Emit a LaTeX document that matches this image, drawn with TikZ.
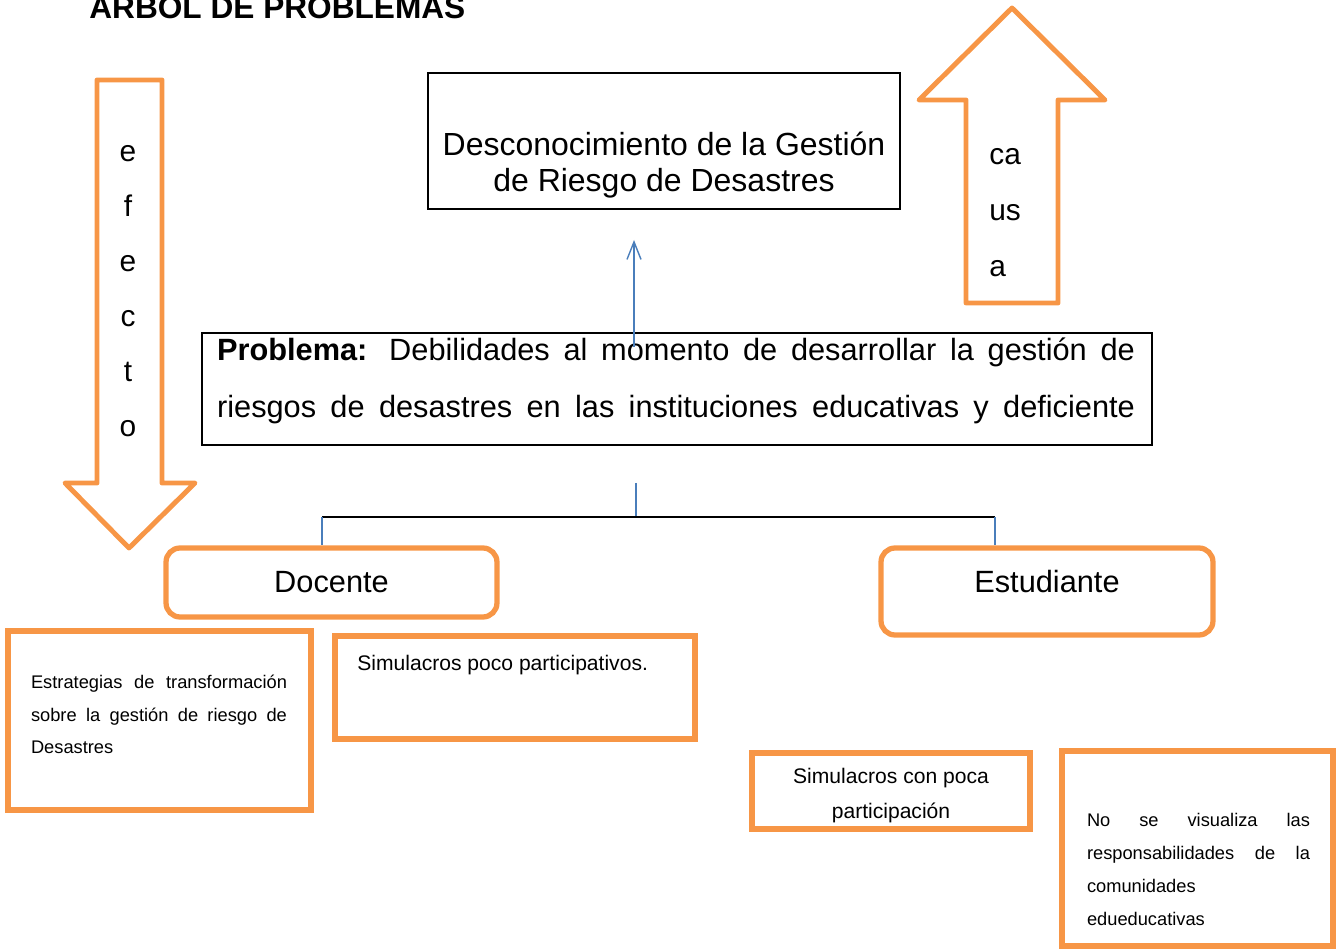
\documentclass[tikz,border=0pt]{standalone}
\usepackage{fontspec}
\setmainfont{Liberation Sans}
\usepackage{xcolor}
\usetikzlibrary{arrows.meta,calc,positioning}
\definecolor{naranja}{HTML}{F79646}
\definecolor{azul}{HTML}{4A7EBB}

\begin{document}
\begin{tikzpicture}[x=0.02cm,y=-0.02cm,
		caja/.style={draw=black,line width=1.2pt},
		cajan/.style={draw=naranja,line width=3.2pt},
		redonda/.style={draw=naranja,line width=3pt,rounded corners=0.28cm},
		flecha/.style={draw=naranja,line width=2.8pt,line join=round},
		grande/.style={inner sep=0pt,font=\fontsize{17.5}{20.4}\selectfont},
		medio/.style={inner sep=0pt,font=\fontsize{12}{19.8}\selectfont},
		pequeno/.style={inner sep=0pt,font=\fontsize{10.4}{18.7}\selectfont},
		letra/.style={inner sep=0pt,font=\fontsize{17}{20}\selectfont},
		enlace/.style={draw=azul,line width=0.8pt}]
		\useasboundingbox (0,0) rectangle (1340,949);
		\node[anchor=base west,inner sep=0pt,font=\bfseries\fontsize{18}{21}\selectfont] (titulo) at (89,19) {ÁRBOL DE PROBLEMAS};
		% flecha de efecto
		\draw[flecha] (97,80) -- (162,80) -- (162,483) -- (195,483) -- (129,548) -- (65,483) -- (97,483) -- cycle;
		\foreach \l [count=\i] in {e,f,e,c,t,o}
			\node[letra,anchor=base] (ef\i) at (128,{162+55*(\i-1)}) {\l};
		% flecha de causa
		\draw[flecha] (966,303) -- (966,100) -- (919,100) -- (1012,8) -- (1105,100) -- (1058,100) -- (1058,303) -- cycle;
		\foreach \s [count=\i] in {ca,us,a}
			\node[letra,anchor=base west] (ca\i) at (989,{165+56*(\i-1)}) {\s};
		% cajas negras
		\node[caja,minimum width=9.44cm,minimum height=2.72cm] (gestion) at (664,141) {};
		\node[grande,align=center,font=\fontsize{18.2}{20.4}\selectfont] (gestiontxt) at (664,165) {Desconocimiento de la Gestión\\de Riesgo de Desastres};
		\node[caja,minimum width=19cm,minimum height=2.24cm] (problema) at (677,389) {};
		\node[inner sep=0pt] (problematxt) at (676,380.5) {\parbox{18.36cm}{\fontsize{17.5}{32.3}\selectfont\parfillskip=0pt \textbf{Problema:} Debilidades al momento de desarrollar la gestión de\linebreak riesgos de desastres en las instituciones educativas y deficiente}};
		\coordinate (flechaini) at (634,347);
		\coordinate (flechafin) at (634,240);
		\draw[enlace,-{Straight Barb[length=10pt,width=8pt]}] (flechaini) -- (flechafin);
		% ramas
		\node[redonda,grande,minimum width=6.62cm,minimum height=1.38cm] (docente) at (331.5,582.5) {Docente};
		\node[redonda,minimum width=6.64cm,minimum height=1.74cm] (estudiante) at (1047,591.5) {};
		\node[grande] (estudiantetxt) at (1047,582) {Estudiante};
		\coordinate (rama) at (636,483);
		\coordinate (cruce) at (636,517);
		\coordinate (izq) at (322,517);
		\coordinate (der) at (995,517);
		\draw[enlace] (rama) -- (cruce);
		\draw[line width=1.1pt] (izq) -- (der);
		\draw[enlace] (izq) -- (izq |- docente.north);
		\draw[enlace] (der) -- (der |- estudiante.north);
		% cajas naranjas
		\node[cajan,minimum width=6.06cm,minimum height=3.58cm] (estrategias) at (159.5,720.5) {};
		\node[pequeno,text width=5.12cm,align=justify] (estrategiastxt) at (159,714.5) {Estrategias de transformación\linebreak sobre la gestión de riesgo de\linebreak Desastres};
		\node[cajan,minimum width=7.2cm,minimum height=2.06cm] (simpoco) at (515,687.5) {};
		\node[medio,anchor=west] (simpocotxt) at (357,665) {Simulacros poco participativos.};
		\node[cajan,minimum width=5.56cm,minimum height=1.52cm] (simcon) at (891,791) {};
		\node[medio,align=center] (simcontxt) at (891,795.5) {Simulacros con poca\\participación};
		\node[cajan,minimum width=5.42cm,minimum height=3.9cm] (novis) at (1197.5,848.5) {};
		\node[pequeno,text width=4.46cm,align=justify] (novistxt) at (1198.5,869.5) {No se visualiza las\linebreak responsabilidades de la\linebreak comunidades\\edueducativas};
\end{tikzpicture}
\end{document}
